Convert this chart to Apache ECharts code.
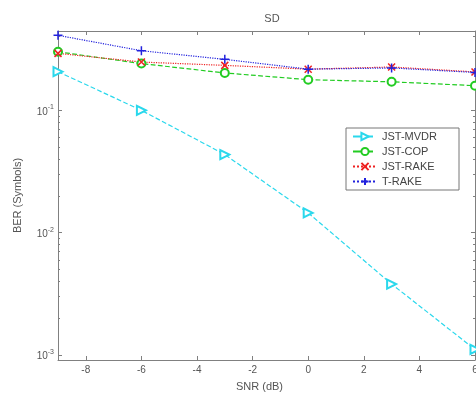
<!DOCTYPE html>
<html>
<head>
<meta charset="utf-8">
<script src="https://cdn.jsdelivr.net/npm/echarts@6/dist/echarts.min.js"></script>
<style>
  html, body { margin: 0; padding: 0; background: #fff; }
  #chart { width: 476px; height: 401px; }
</style>
</head>
<body>
<div id="chart"></div>
<script>
// values
const snr = [-9, -6, -3, 0, 3, 6];
const mvdr = [0.207, 0.1, 0.0435, 0.0145, 0.0038, 0.00111];
const cop = [0.301, 0.241, 0.202, 0.178, 0.171, 0.159];
const rake = [0.292, 0.248, 0.233, 0.217, 0.226, 0.206];
const trake = [0.41, 0.307, 0.261, 0.217, 0.222, 0.204];

const xTicks = [-8, -6, -4, -2, 0, 2, 4, 6];
const yMajor = [0.001, 0.01, 0.1];
const yMinor = [0.002, 0.003, 0.004, 0.005, 0.006, 0.007, 0.008, 0.009,
  0.02, 0.03, 0.04, 0.05, 0.06, 0.07, 0.08, 0.09, 0.2, 0.3, 0.4];

const font = 'Liberation Sans';
const axisGray = '#808080';
const textGray = '#555';

const pairs = ys => snr.map((x, i) => [x, ys[i]]);

const chart = echarts.init(document.getElementById('chart'));

const yBase = {
  type: 'log',
  logBase: 10,
  min: 0.00091,
  max: 0.445,
  splitLine: { show: false },
  axisLine: { show: false, onZero: false },
  axisLabel: { show: false }
};

const xBase = {
  type: 'value',
  min: -9,
  max: 6,
  splitLine: { show: false },
  axisLine: { show: true, onZero: false, lineStyle: { color: axisGray, width: 1 } },
  axisTick: { show: true, inside: true, length: 4, customValues: xTicks, lineStyle: { color: axisGray } }
};

chart.setOption({
  animation: false,
  textStyle: { fontFamily: font },
  title: {
    text: 'SD',
    left: 267,
    top: 8,
    textAlign: 'center',
    textStyle: { fontSize: 11, fontWeight: 'normal', color: textGray, fontFamily: font }
  },
  grid: { left: 58, top: 31, right: 1, bottom: 41, outerBoundsMode: 'none', containLabel: false },
  legend: {
    orient: 'vertical',
    left: 346,
    top: 128,
    padding: [3, 22, 3, 6],
    itemWidth: 24,
    itemHeight: 9,
    itemGap: 4,
    borderColor: '#777',
    borderWidth: 1,
    backgroundColor: '#fff',
    textStyle: { fontSize: 11, color: '#444', fontFamily: font },
    data: ['JST-MVDR', 'JST-COP', 'JST-RAKE', 'T-RAKE']
  },
  xAxis: [
    Object.assign({}, xBase, {
      position: 'bottom',
      name: 'SNR (dB)',
      nameLocation: 'middle',
      nameGap: 21,
      nameTextStyle: { fontSize: 11, color: textGray, padding: [0, 14, 0, 0] },
      axisLabel: { show: true, customValues: xTicks, margin: 5, fontSize: 10, color: textGray }
    }),
    Object.assign({}, xBase, {
      position: 'top',
      axisLabel: { show: false }
    })
  ],
  yAxis: [
    Object.assign({}, yBase, {
      position: 'left',
      axisLine: { show: true, onZero: false, lineStyle: { color: axisGray, width: 1 } },
      axisTick: { show: true, inside: true, length: 4, customValues: yMajor, lineStyle: { color: axisGray } },
      axisLabel: {
        show: true,
        customValues: yMajor,
        margin: 4,
        formatter: v => '{b|10}{s|' + Math.round(Math.log10(v)) + '}',
        rich: {
          b: { fontSize: 10, color: textGray, verticalAlign: 'bottom', fontFamily: font },
          s: { fontSize: 7, color: textGray, verticalAlign: 'bottom', padding: [0, 0, 6, 0], fontFamily: font }
        }
      },
      name: 'BER (Symbols)',
      nameLocation: 'middle',
      nameGap: 35,
      nameTextStyle: { fontSize: 11, color: textGray }
    }),
    Object.assign({}, yBase, {
      position: 'left',
      axisTick: { show: true, inside: true, length: 2, customValues: yMinor, lineStyle: { color: axisGray } }
    }),
    Object.assign({}, yBase, {
      position: 'right',
      axisLine: { show: true, onZero: false, lineStyle: { color: axisGray, width: 1 } },
      axisTick: { show: true, inside: true, length: 4, customValues: yMajor, lineStyle: { color: axisGray } }
    }),
    Object.assign({}, yBase, {
      position: 'right',
      axisTick: { show: true, inside: true, length: 2, customValues: yMinor, lineStyle: { color: axisGray } }
    })
  ],
  series: [
    {
      name: 'JST-MVDR',
      type: 'line',
      data: pairs(mvdr),
      symbol: 'emptyTriangle',
      symbolRotate: -90,
      symbolSize: 9,
      lineStyle: { color: '#2ad8ec', width: 1.2, type: 'dashed' },
      itemStyle: { color: '#2ad8ec', borderWidth: 1.2 }
    },
    {
      name: 'JST-COP',
      type: 'line',
      data: pairs(cop),
      symbol: 'emptyCircle',
      symbolSize: 8,
      lineStyle: { color: '#22cc22', width: 1.2, type: 'dashed' },
      itemStyle: { color: '#22cc22', borderWidth: 1.2 }
    },
    {
      name: 'JST-RAKE',
      type: 'line',
      data: pairs(rake),
      symbol: 'path://M0,0L10,10M10,0L0,10',
      symbolSize: 7,
      lineStyle: { color: '#ee2222', width: 1.2, type: 'dotted' },
      itemStyle: { color: '#ee2222', borderColor: '#ee2222', borderWidth: 1.5 }
    },
    {
      name: 'T-RAKE',
      type: 'line',
      data: pairs(trake),
      symbol: 'path://M5,0L5,10M0,5L10,5',
      symbolSize: 9,
      lineStyle: { color: '#2222dd', width: 1.2, type: 'dotted' },
      itemStyle: { color: '#2222dd', borderColor: '#2222dd', borderWidth: 1.5 }
    }
  ]
});
</script>
</body>
</html>
